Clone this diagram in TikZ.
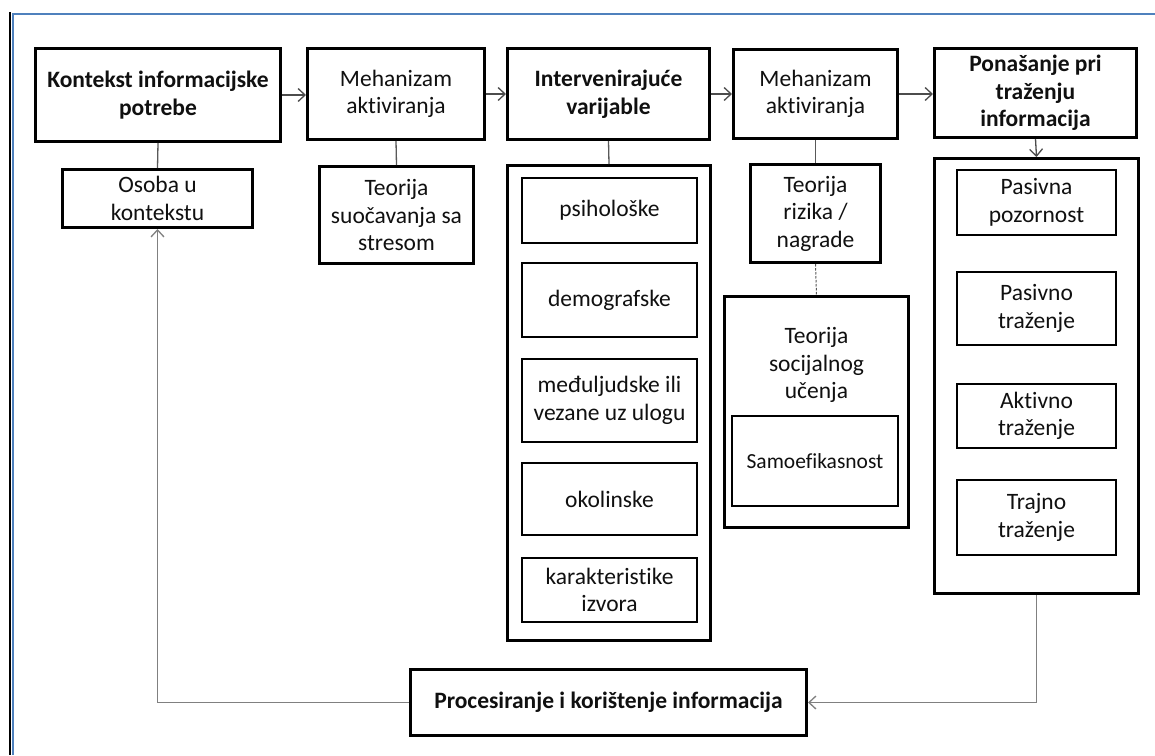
\documentclass[tikz,border=0pt]{standalone}
\usepackage{fontspec}
\setmainfont{Carlito}[Ligatures={NoCommon}]
\usetikzlibrary{arrows.meta}
\definecolor{frameblue}{HTML}{4F81BD}
\definecolor{txt}{HTML}{101010}
\tikzset{
  bigbox/.style={draw=black, line width=3pt, fill=white, inner sep=0pt, align=center, text=txt, font=\fontsize{23.5}{27.5}\selectfont},
  smallbox/.style={draw=black, line width=2pt, fill=white, inner sep=0pt, align=center, text=txt, font=\fontsize{23.5}{27.5}\selectfont},
  thinbox/.style={draw=black, line width=1.5pt, fill=white, inner sep=0pt, align=center, text=txt, font=\fontsize{21.5}{25}\selectfont},
  plaintext/.style={inner sep=0pt, align=center, text=txt, font=\fontsize{23.5}{27.5}\selectfont},
  bold/.style={font=\fontsize{23.5}{27.5}\selectfont\bfseries},
  link/.style={draw=black!65, line width=1.3pt},
  arr/.style={draw=black!70, line width=1.3pt, -{Straight Barb[length=7pt,width=13pt,line width=1.3pt]}},
  backarr/.style={draw=black!50, line width=1.5pt, -{Straight Barb[length=7pt,width=13pt,line width=1.3pt]}},
}
\begin{document}
\begin{tikzpicture}[x=1pt,y=-1pt]
\useasboundingbox (0,0) rectangle (1155,755);
\fill[white] (0,0) rectangle (1155,755);
% frame
\draw[black, line width=1.3pt] (10,12) -- (10,755);
\draw[frameblue, line width=2pt] (13,755) -- (13,14) -- (1155,14);

% column 1
\node[bigbox, bold, minimum width=245pt, minimum height=93pt] (ctx) at (158,95) {Kontekst informacijske\\potrebe};
\node[bigbox, minimum width=190pt, minimum height=58pt] (osoba) at (157.5,198.5) {Osoba u\\kontekstu};

% column 2
\node[bigbox, minimum width=177pt, minimum height=91pt] (meh1) at (396,94) {Mehanizam\\aktiviranja};
\node[bigbox, minimum width=154pt, minimum height=97pt] (stres) at (396.5,215) {Teorija\\suočavanja sa\\stresom};

% column 3
\node[bigbox, bold, minimum width=202pt, minimum height=91pt] (interv) at (608.5,94) {Intervenirajuće\\varijable};
\node[bigbox, minimum width=203pt, minimum height=475pt] (intervc) at (609,403) {};
\node[smallbox, minimum width=175pt, minimum height=65pt] (psih) at (609.5,210.5) {psihološke};
\node[smallbox, minimum width=175pt, minimum height=74pt] (demo) at (609.5,300) {demografske};
\node[smallbox, minimum width=175pt, minimum height=83pt] (medu) at (609.5,400.5) {međuljudske ili\\vezane uz ulogu};
\node[smallbox, minimum width=175pt, minimum height=72pt] (okol) at (609.5,499) {okolinske};
\node[smallbox, minimum width=175pt, minimum height=64pt] (karak) at (609.5,590) {karakteristike\\izvora};

% column 4
\node[bigbox, minimum width=164pt, minimum height=89pt] (meh2) at (815.5,94) {Mehanizam\\aktiviranja};
\node[bigbox, minimum width=130pt, minimum height=98pt] (rizik) at (815.5,213.5) {Teorija\\rizika /\\nagrade};
\node[bigbox, minimum width=184pt, minimum height=231pt] (socc) at (816.5,412) {};
\node[plaintext] (soct) at (816.5,365) {Teorija\\socijalnog\\učenja};
\node[thinbox, minimum width=166pt, minimum height=90pt] (samo) at (815,461) {Samoefikasnost};

% column 5
\node[bigbox, bold, minimum width=202pt, minimum height=89pt] (pon) at (1035.5,93) {Ponašanje pri\\traženju\\informacija};
\node[bigbox, minimum width=204pt, minimum height=435pt] (ponc) at (1036.5,376) {};
\node[smallbox, minimum width=159pt, minimum height=65pt] (pas) at (1036.5,202.5) {Pasivna\\pozornost};
\node[smallbox, minimum width=159pt, minimum height=73pt] (past) at (1036.5,308.5) {Pasivno\\traženje};
\node[smallbox, minimum width=159pt, minimum height=64pt] (akt) at (1036.5,416) {Aktivno\\traženje};
\node[smallbox, minimum width=159pt, minimum height=75pt] (traj) at (1036.5,517.5) {Trajno\\traženje};

% bottom
\node[bigbox, bold, minimum width=396pt, minimum height=66pt] (proc) at (608.5,702.5) {Procesiranje i korištenje informacija};

% connectors
\draw[arr] (ctx.east) -- (ctx.east -| meh1.west);
\draw[arr] (meh1.east) -- (meh1.east -| interv.west);
\draw[arr] (interv.east) -- (interv.east -| meh2.west);
\draw[arr] (meh2.east) -- (meh2.east -| pon.west);
\draw[link] (ctx.south) -- (osoba.north);
\draw[link] (meh1.south) -- (stres.north);
\draw[link] (interv.south) -- (intervc.north);
\draw[link] (meh2.south) -- (rizik.north);
\draw[link, line width=1pt, dash pattern=on 2.5pt off 1.5pt] (rizik.south) -- (socc.north);
\draw[arr] (pon.south) -- (ponc.north);
\draw[backarr] (ponc.south) |- (proc.east);
\draw[backarr] (proc.west) -| (osoba.south);
\end{tikzpicture}
\end{document}
